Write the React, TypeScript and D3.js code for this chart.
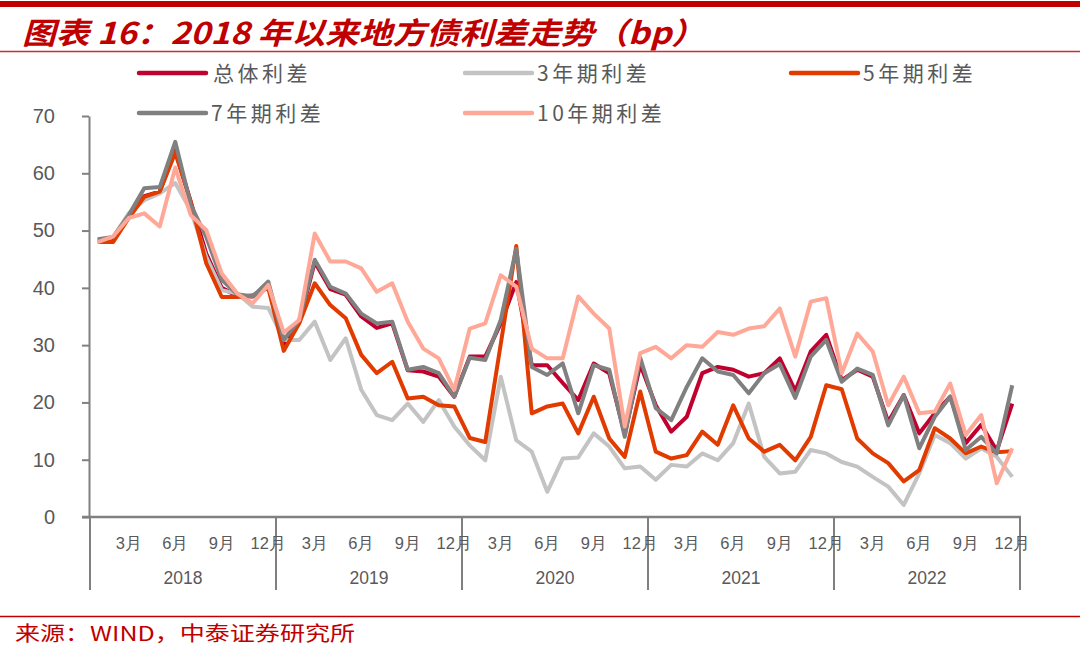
import * as d3 from 'd3';
import { useEffect, useRef } from 'react';

// 年份与月份（月度数据，2018-01 至 2022-12）
const years = ['2018', '2019', '2020', '2021', '2022'];
const monthNames = ['1月', '2月', '3月', '4月', '5月', '6月', '7月', '8月', '9月', '10月', '11月', '12月'];
const shownMonths = ['3月', '6月', '9月', '12月'];
const yTicks = [0, 10, 20, 30, 40, 50, 60, 70];

const totalSpread = [
    48.3, 48.5, 52.5, 56, 56.8, 64, 55, 46, 40, 38.6, 38.5, 40.5,
    30, 34, 44.5, 39.8, 38.8, 35, 33, 33.8, 25.6, 25.4, 24.5, 21,
    28, 28, 33.8, 41, 26.5, 26.5, 23.4, 20.4, 26.8, 25.1, 14.5, 26.6,
    19.5, 14.9, 17.5, 25.1, 26.2, 25.7, 24.5, 25.1, 27.7, 22, 28.9, 31.8,
    23.9, 25.7, 24.5, 16.6, 21.3, 14.6, 18.1, 21, 12.9, 16.1, 11.6, 19.8,
];
const spread3y = [
    48, 48.9, 53, 55.3, 56.5, 58.3, 53.5, 45.4, 39.6, 39, 36.7, 36.5,
    30.9, 30.9, 34.1, 27.4, 31.2, 22.2, 17.8, 16.9, 19.8, 16.6, 20.4, 15.8,
    12.5, 9.9, 24.5, 13.4, 11.4, 4.4, 10.2, 10.4, 14.6, 12.3, 8.5, 8.8,
    6.5, 9.1, 8.8, 11.1, 9.9, 12.9, 19.8, 10.5, 7.6, 7.9, 11.7, 11.1,
    9.6, 8.8, 7, 5.3, 2.1, 7.6, 14.3, 12.9, 10.2, 12, 10.5, 7,
];
const spread5y = [
    48, 48, 52.2, 55.9, 56.8, 63.6, 55, 44.3, 38.4, 38.4, 38.7, 40,
    29, 33.8, 40.8, 37, 34.7, 28.3, 25.1, 27.1, 20.7, 21, 19.5, 19.3,
    13.8, 13.1, 30.2, 47.3, 18.1, 19.3, 19.8, 14.6, 21, 13.7, 10.5, 21.9,
    11.4, 10.2, 10.8, 14.9, 12.6, 19.5, 13.7, 11.4, 12.6, 9.9, 14, 23,
    22.3, 13.7, 11.1, 9.4, 6.2, 8.2, 15.5, 13.7, 11.1, 12.3, 11.3, 11.5,
];
const spread7y = [
    48.5, 48.9, 52.7, 57.4, 57.6, 65.5, 54.5, 48.9, 41.4, 38.9, 38.5, 41.1,
    30.9, 34.4, 44.9, 40.2, 39, 35.5, 33.8, 34.1, 25.7, 26.2, 25.1, 21,
    27.8, 27.4, 34.4, 46.8, 26.2, 24.8, 26.8, 18.1, 26.5, 25.7, 14, 27.8,
    19, 16.9, 22.7, 27.7, 25.4, 24.8, 21.6, 25.1, 26.7, 20.8, 28, 30.9,
    23.6, 25.9, 24.8, 16, 21.3, 12, 17.5, 21, 11.7, 14, 11.1, 23,
];
const spread10y = [
    48, 49, 52.2, 53, 50.7, 61, 52.7, 50.1, 42.5, 39, 37.3, 40.5,
    32.2, 34.4, 49.5, 44.6, 44.6, 43.4, 39.3, 40.8, 34.1, 29.4, 27.7, 22.2,
    32.9, 33.8, 42.2, 40.2, 29.4, 27.7, 27.7, 38.5, 35.5, 32.9, 15.8, 28.6,
    29.7, 27.7, 30, 29.7, 32.3, 31.8, 32.9, 33.3, 36.4, 28, 37.6, 38.2,
    25.1, 32, 28.9, 19.5, 24.5, 18.1, 18.4, 23.3, 14.3, 17.8, 5.9, 12,
];

const seriesNames = ['总体利差', '3年期利差', '5年期利差', '7年期利差', '10年期利差'];
const seriesColors = ['#C0002E', '#C3C3C3', '#E23B00', '#808080', '#FFA898'];

export default function App() {
    const chartRef = useRef<SVGSVGElement | null>(null);

    useEffect(() => {
        if (!chartRef.current) return;
        const svg = d3.select(chartRef.current);
        svg.selectAll('*').remove();

        const width = 1080;
        const height = 651;
        const left = 90;
        const right = 1020;
        const axisY = 517;
        const red = '#C00000';
        const axisColor = '#808080';
        const textColor = '#595959';

        const dates = years.flatMap((y) => monthNames.map((m) => `${y}-${m}`));
        const allSeries = [totalSpread, spread3y, spread5y, spread7y, spread10y];

        const x = d3.scaleBand<string>().domain(dates).range([left, right]);
        const xYear = d3.scaleBand<string>().domain(years).range([left, right]);
        const y = d3.scaleLinear().domain([0, 70]).range([axisY, 116]);
        const cx = (d: string) => x(d)! + x.bandwidth() / 2;

        svg.attr('viewBox', `0 0 ${width} ${height}`);
        svg.append('rect').attr('width', width).attr('height', height).attr('fill', '#fff');

        // 顶部红条与标题
        svg.append('rect').attr('x', 0).attr('y', 1).attr('width', width).attr('height', 6).attr('fill', red);
        svg.append('text')
            .attr('x', 22)
            .attr('y', 44)
            .attr('textLength', 683)
            .attr('lengthAdjust', 'spacingAndGlyphs')
            .style('font-family', '"Noto Sans CJK SC", sans-serif')
            .style('font-size', '30px')
            .style('font-weight', 'bold')
            .style('font-style', 'italic')
            .attr('fill', red)
            .text('图表 16：2018 年以来地方债利差走势（bp）');
        svg.append('line')
            .attr('x1', 0).attr('x2', width)
            .attr('y1', 51.5).attr('y2', 51.5)
            .attr('stroke', '#C8302C').attr('stroke-width', 1.5);

        // 图例
        const legendPos = [
            { x: 139, y: 73 },
            { x: 465, y: 73 },
            { x: 791, y: 73 },
            { x: 139, y: 113 },
            { x: 465, y: 113 },
        ];
        const legend = svg.append('g');
        seriesNames.forEach((name, i) => {
            const p = legendPos[i];
            legend.append('line')
                .attr('x1', p.x).attr('x2', p.x + 67)
                .attr('y1', p.y).attr('y2', p.y)
                .attr('stroke', seriesColors[i])
                .attr('stroke-width', 4.5)
                .attr('stroke-linecap', 'round');
            legend.append('text')
                .attr('x', p.x + (i === 0 ? 74 : 72))
                .attr('y', p.y)
                .attr('dy', '0.36em')
                .style('font-family', '"Noto Sans CJK SC", sans-serif')
                .style('font-size', '21px')
                .style('letter-spacing', '3.5px')
                .attr('fill', textColor)
                .text(name);
        });

        // Y 轴
        svg.append('g')
            .attr('transform', `translate(${left - 1},0)`)
            .call(d3.axisLeft(y).tickValues(yTicks).tickSizeInner(7).tickSizeOuter(0).tickPadding(27))
            .call((g) => g.select('.domain').attr('stroke', axisColor).attr('stroke-width', 2))
            .call((g) => g.selectAll('.tick line').attr('stroke', axisColor).attr('stroke-width', 2))
            .call((g) =>
                g.selectAll('.tick text')
                    .attr('fill', textColor)
                    .style('font-family', '"Liberation Sans", Arial, sans-serif')
                    .style('font-size', '20px'),
            );

        // 折线
        const line = d3
            .line<number>()
            .x((_, i) => cx(dates[i]))
            .y((d) => y(d));
        svg.append('g')
            .selectAll('path')
            .data(allSeries)
            .join('path')
            .attr('d', (d) => line(d))
            .attr('fill', 'none')
            .attr('stroke', (_, i) => seriesColors[i])
            .attr('stroke-width', 4)
            .attr('stroke-linejoin', 'round');

        // X 轴（月份 + 年份分组）
        const xg = svg.append('g');
        xg.append('line')
            .attr('x1', left - 8).attr('x2', right + 1)
            .attr('y1', axisY).attr('y2', axisY)
            .attr('stroke', axisColor).attr('stroke-width', 2.5);
        const bounds = [...years.map((yr) => xYear(yr)!), right];
        xg.selectAll('line.sep')
            .data(bounds)
            .join('line')
            .attr('class', 'sep')
            .attr('x1', (d) => d).attr('x2', (d) => d)
            .attr('y1', axisY).attr('y2', 590)
            .attr('stroke', axisColor).attr('stroke-width', 2);
        xg.selectAll('text.month')
            .data(dates.filter((d) => shownMonths.includes(d.split('-')[1])))
            .join('text')
            .attr('class', 'month')
            .attr('x', (d) => cx(d))
            .attr('y', 549)
            .attr('text-anchor', 'middle')
            .style('font-family', '"Liberation Sans Narrow", "Liberation Sans", sans-serif')
            .style('font-size', '16.5px')
            .attr('fill', textColor)
            .text((d) => d.split('-')[1]);
        xg.selectAll('text.year')
            .data(years)
            .join('text')
            .attr('class', 'year')
            .attr('x', (d) => xYear(d)! + xYear.bandwidth() / 2)
            .attr('y', 584)
            .attr('text-anchor', 'middle')
            .style('font-family', '"Liberation Sans Narrow", "Liberation Sans", sans-serif')
            .style('font-size', '17.5px')
            .attr('fill', textColor)
            .text((d) => d);

        // 底部来源
        svg.append('line')
            .attr('x1', 0).attr('x2', width)
            .attr('y1', 616.5).attr('y2', 616.5)
            .attr('stroke', red).attr('stroke-width', 1.5);
        svg.append('text')
            .attr('x', 15)
            .attr('y', 641)
            .attr('textLength', 340)
            .attr('lengthAdjust', 'spacingAndGlyphs')
            .style('font-family', '"Noto Sans CJK SC", sans-serif')
            .style('font-size', '20px')
            .attr('fill', red)
            .text('来源：WIND，中泰证券研究所');
    }, []);

    return (
        <svg
            ref={chartRef}
            width={1080}
            height={651}
            style={{ position: 'absolute', left: 0, top: 0, display: 'block' }}
        />
    );
}
